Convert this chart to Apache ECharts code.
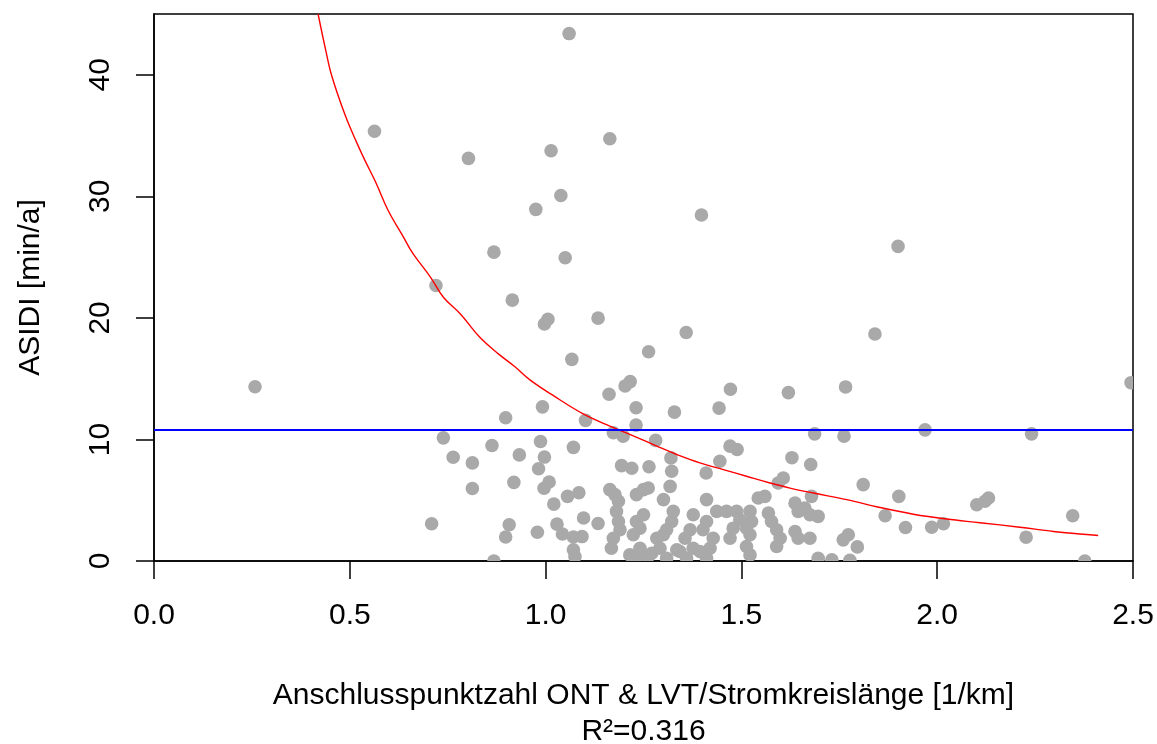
<!DOCTYPE html>
<html>
<head>
<meta charset="utf-8">
<script src="https://cdn.jsdelivr.net/npm/echarts@6/dist/echarts.min.js"></script>
<style>
html,body{margin:0;padding:0;background:#fff;}
#chart{width:1157px;height:744px;}
</style>
</head>
<body>
<div id="chart"></div>
<script>
// Scatter points: Anschlusspunktzahl/Stromkreislänge [1/km] vs ASIDI [min/a]
const pointsX = [0.258,0.563,0.803,1.014,1.060,1.164,1.039,0.975,1.398,1.050,
0.868,1.900,0.720,0.915,1.006,0.997,1.134,1.359,1.841,1.067,
1.263,2.495,1.216,1.203,1.162,1.472,1.620,1.766,0.992,1.231,
1.329,1.443,1.102,0.898,1.231,1.173,1.198,1.281,1.687,1.762,
1.969,2.241,0.739,0.863,0.987,1.071,0.764,0.813,0.933,0.997,
0.982,0.813,0.919,1.009,0.996,1.021,1.056,1.085,0.709,0.907,
0.898,0.979,1.029,1.043,1.071,1.093,1.097,1.134,1.071,1.075,
0.868,1.194,1.220,1.264,1.320,1.322,1.410,1.471,1.489,1.445,
1.629,1.677,1.811,1.607,1.594,1.679,1.543,1.560,1.637,1.645,
1.662,1.675,1.696,1.867,1.902,1.773,1.760,1.796,1.637,1.645,
1.675,1.696,1.731,1.777,1.569,1.577,1.590,1.599,1.590,1.522,
1.526,1.513,1.522,1.522,1.488,1.496,1.479,1.471,1.411,1.437,
1.462,1.411,1.402,1.428,1.420,1.411,1.377,1.369,1.356,1.377,
1.394,1.326,1.322,1.309,1.301,1.284,1.292,1.271,1.343,1.360,
1.250,1.232,1.241,1.224,1.241,1.215,1.232,1.301,1.318,1.232,
1.250,1.262,1.164,1.177,1.186,1.181,1.186,1.190,1.173,1.168,
2.101,2.122,2.131,1.919,1.986,2.016,2.346,2.227,2.377,1.513,
1.309,1.335,1.262];
const pointsY = [14.33,35.35,33.12,33.75,43.39,34.74,30.07,28.93,28.46,24.95,
25.41,25.88,22.66,21.46,19.89,19.50,19.98,18.80,18.67,16.59,
17.21,14.67,14.76,14.40,13.72,14.13,13.85,14.32,12.68,12.61,
12.25,12.58,11.57,11.78,11.18,10.55,10.27,9.92,10.46,10.27,
10.79,10.46,10.13,9.50,9.83,9.35,8.54,8.07,8.73,8.55,
7.59,5.96,6.47,6.50,5.98,4.68,5.32,5.62,3.06,2.98,
1.97,2.37,3.03,2.22,1.97,2.01,3.54,3.09,0.92,0.36,
0.00,7.85,7.63,7.75,8.48,7.38,7.24,9.45,9.17,8.21,
8.50,7.94,6.28,6.83,6.42,5.32,5.18,5.32,4.76,4.08,
4.35,3.81,3.67,3.72,5.32,2.16,1.74,1.16,2.43,1.87,
1.87,0.22,0.09,0.05,3.94,3.25,2.57,1.87,1.19,4.08,
3.25,2.70,2.16,0.50,4.08,3.39,2.70,1.87,5.05,4.08,
4.08,3.25,2.57,1.87,1.05,0.22,3.81,2.57,1.87,1.05,
0.78,4.08,3.25,2.57,2.16,1.87,1.05,0.64,0.78,0.22,
3.81,3.25,2.70,2.16,1.05,0.50,0.22,5.05,6.14,5.46,
5.87,6.00,5.87,5.46,4.91,4.08,3.25,2.57,1.87,1.05,
4.63,4.91,5.18,2.76,2.78,3.06,3.72,1.96,0.00,1.19,
0.22,0.92,0.36];

// Fitted curve
const fitX = [0.419,0.440,0.454,0.489,0.518,0.538,0.567,0.597,0.636,0.661,0.705,0.739,0.783,0.832,0.881,0.921,0.960,1.020,1.096,1.164,1.224,1.284,1.335,1.394,1.454,1.513,1.573,1.624,1.684,1.769,1.854,1.939,2.024,2.109,2.211,2.297,2.373,2.411];
const fitY = [45.0,41.8,39.9,36.6,34.4,33.0,31.1,28.9,26.7,25.3,23.4,21.7,20.3,18.4,17.0,16.0,14.9,13.6,12.1,11.1,10.3,9.45,8.76,8.07,7.52,6.97,6.42,6.0,5.59,5.05,4.40,3.85,3.45,3.15,2.78,2.43,2.2,2.1];

// Horizontal reference (mean ASIDI)
const meanAsidi = 10.8;

const xTicks = [0, 0.5, 1.0, 1.5, 2.0, 2.5];
const yTicks = [0, 10, 20, 30, 40];
const xTitle = 'Anschlusspunktzahl ONT & LVT/Stromkreislänge [1/km]';
const subTitle = 'R²=0.316';
const yTitle = 'ASIDI [min/a]';

const points = pointsX.map((x, i) => [x, pointsY[i]]);
const fit = fitX.map((x, i) => [x, fitY[i]]);

const FONT = "'Liberation Sans', Arial, sans-serif";
const chart = echarts.init(document.getElementById('chart'), null, {renderer: 'canvas'});
chart.setOption({
  animation: false,
  backgroundColor: '#fff',
  textStyle: {fontFamily: FONT, color: '#000'},
  grid: {left: 154, top: 14, width: 979, height: 547, containLabel: false, outerBoundsMode: 'none',
    show: true, borderColor: '#000', borderWidth: 1.5, backgroundColor: 'transparent'},
  xAxis: {
    type: 'value', min: 0, max: 2.5, interval: 0.5,
    axisLine: {show: true, onZero: false, lineStyle: {color: '#000', width: 1.5}},
    axisTick: {show: true, length: 18, lineStyle: {color: '#000', width: 1.5}, customValues: xTicks},
    axisLabel: {show: true, margin: 40, fontSize: 30, color: '#000', fontFamily: FONT, customValues: xTicks,
      formatter: v => Number(v).toFixed(1)},
    splitLine: {show: false},
    name: xTitle + '\n' + subTitle, nameLocation: 'middle', nameGap: 117,
    nameTextStyle: {fontSize: 30, color: '#000', lineHeight: 36, fontFamily: FONT}
  },
  yAxis: {
    type: 'value', min: 0, max: 45, interval: 10,
    axisLine: {show: true, onZero: false, lineStyle: {color: '#000', width: 1.5}},
    axisTick: {show: true, length: 18, lineStyle: {color: '#000', width: 1.5}, customValues: yTicks},
    axisLabel: {show: true, rotate: 90, margin: 38, fontSize: 30, color: '#000', fontFamily: FONT, customValues: yTicks},
    splitLine: {show: false},
    name: yTitle, nameLocation: 'middle', nameGap: 108,
    nameTextStyle: {fontSize: 30, color: '#000', fontFamily: FONT}
  },
  series: [
    {
      type: 'custom',
      clip: true,
      data: points,
      renderItem: function (params, api) {
        const p = api.coord([api.value(0), api.value(1)]);
        return {type: 'circle', shape: {cx: p[0], cy: p[1], r: 6.8}, style: {fill: '#a9a9a9', stroke: null}};
      },
      z: 2
    },
    {
      type: 'line',
      data: fit,
      smooth: 0.4,
      showSymbol: false,
      symbol: 'none',
      clip: true,
      lineStyle: {color: '#ff0000', width: 1.4},
      z: 3,
      markLine: {
        silent: true,
        symbol: ['none', 'none'],
        label: {show: false},
        lineStyle: {color: '#0000ff', width: 2, type: 'solid'},
        data: [{yAxis: meanAsidi}]
      }
    }
  ]
});
</script>
</body>
</html>
